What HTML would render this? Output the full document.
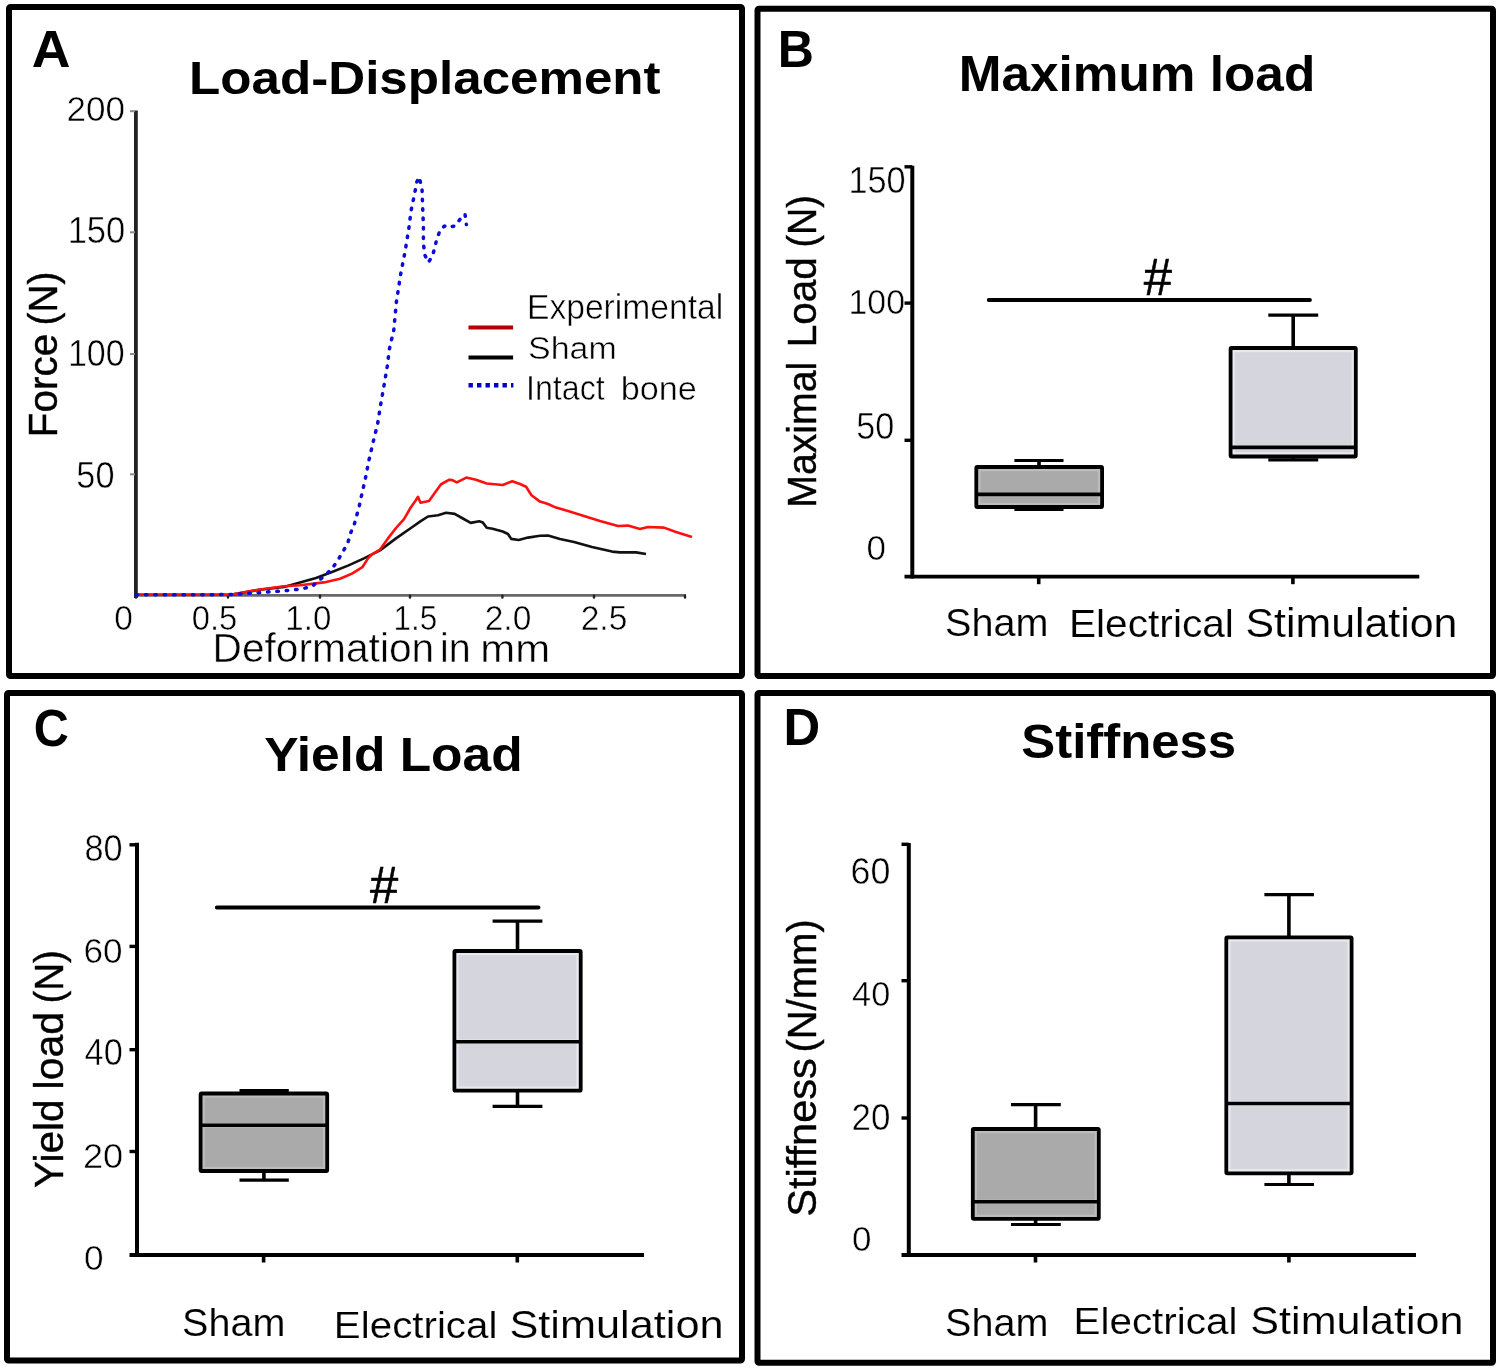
<!DOCTYPE html>
<html><head><meta charset="utf-8"><title>Figure</title>
<style>html,body{margin:0;padding:0;background:#fff;} svg{display:block;will-change:transform;} text{font-family:"Liberation Sans",sans-serif;}</style>
</head><body>
<svg width="1500" height="1370" viewBox="0 0 1500 1370">
<rect width="1500" height="1370" fill="#fff"/>
<g fill="none" stroke="#000" stroke-width="6">
<rect x="9" y="7" width="733" height="669" rx="1.5"/>
<rect x="757.5" y="8.7" width="735.5" height="667.3" rx="1.5"/>
<rect x="7" y="693" width="735" height="667.5" rx="1.5"/>
<rect x="757.5" y="693" width="735.5" height="669.7" rx="1.5"/>
</g>
<g fill="none">
<path d="M134 595.3 H686" stroke="#686868" stroke-width="2.7"/>
<path d="M135.9 110.5 V598" stroke="#222" stroke-width="3.8"/>
<path d="M130 111.2 H135" stroke="#8a8a8a" stroke-width="2"/>
<path d="M130 232.3 H135" stroke="#8a8a8a" stroke-width="2"/>
<path d="M130 354 H135" stroke="#8a8a8a" stroke-width="2"/>
<path d="M130 474.3 H135" stroke="#8a8a8a" stroke-width="2"/>
<path d="M136 595.8 V597.6" stroke="#222" stroke-width="2.4" stroke-linecap="round"/>
<path d="M228 595.8 V597.6" stroke="#222" stroke-width="2.4" stroke-linecap="round"/>
<path d="M320 595.8 V597.6" stroke="#222" stroke-width="2.4" stroke-linecap="round"/>
<path d="M410 595.8 V597.6" stroke="#222" stroke-width="2.4" stroke-linecap="round"/>
<path d="M502.4 595.8 V597.6" stroke="#222" stroke-width="2.4" stroke-linecap="round"/>
<path d="M594 595.8 V597.6" stroke="#222" stroke-width="2.4" stroke-linecap="round"/>
<path d="M685 595.8 V597.6" stroke="#222" stroke-width="2.4" stroke-linecap="round"/>
</g>
<polyline points="136,594.8 232,594.6 258,590 284,586.9 300,582.6 316,578 332,572 348,565.6 364,558.4 380,550.4 396,538.4 412,527.2 420,521.6 428,516.5 438,515.2 446.1,512.8 454.7,513.9 462,518 470.7,522.9 479.2,521.3 482.9,522.6 486.7,527.7 492.6,528.7 502.7,531.5 508,534 511.2,538.9 518.7,540 528,537.6 540,535.7 548,535.6 560,539 574,542 592,547 612,551.6 620,552.4 636,552.4 646,554" fill="none" stroke="#111" stroke-width="2.6" stroke-linejoin="round"/>
<polyline points="136,594.8 232,594.6 258,589.8 284,586.3 300,585.3 324,582.4 340,578.8 352,573.6 362.4,567.2 368,558.4 372,554.4 380,549.6 388,538.4 396,528 404,519.2 410.4,508 416,500 418,496.8 420.5,502.7 429,501 440.8,484.5 449.3,479.7 452,480 456.8,482.4 466.4,477.6 476,479.7 486.7,483.5 502.7,485 512.3,481.3 520,484 526.1,486.7 531.5,495.2 540,501.6 548,504 556,507.6 568,511 584,516 600,521 618,526 628,525.6 640,529 648,527 664,527.6 676,532 692,537" fill="none" stroke="#ff1010" stroke-width="2.6" stroke-linejoin="round"/>
<polyline points="136,594.8 232,594.6 266.7,592 284,590.8 301.3,589 312,586.4 322.4,577.6 332,568.8 337.6,560.8 343.2,551.2 348,542.4 350.4,533.6 354.4,524 356.8,515.2 359.2,506.4 361,497.9 365.3,479 369,460 373.4,441 377.7,423.4 380.7,404.5 384.3,384 387.2,366.5 389.4,349 393.8,330 396.4,301.8 400.7,274 405,252 408.8,228.8 411,211 414.6,193.8 416.8,182 419,177 422,188 422.6,205.5 423.4,226 423.4,243.4 424.8,255 428.5,262.4 432.8,255 436.5,240.5 440,230.3 444.5,226 447.4,227.4 454.7,226 460.6,218.6 465,214.2 466.4,224.5" fill="none" stroke="#0c0cd8" stroke-width="3.5" stroke-dasharray="1.5 7.9" stroke-linecap="round" stroke-linejoin="round"/>
<path d="M468.5 327.5 H513.1" stroke="#b40000" stroke-width="4.2"/>
<path d="M468.5 357.5 H513.1" stroke="#000" stroke-width="4.2"/>
<path d="M468.5 385.2 H513.4" stroke="#0000d0" stroke-width="4.4" stroke-dasharray="4.4 4.1"/>
<g stroke="#000" fill="none">
<path d="M912.3 165.8 V578.6" stroke-width="4"/>
<path d="M904.5 576.7 H1419.3" stroke-width="3.8"/>
<path d="M904.5 166.8 H912.3" stroke-width="3.4"/>
<path d="M904.5 303.1 H912.3" stroke-width="3.4"/>
<path d="M904.5 440.3 H912.3" stroke-width="3.4"/>
<path d="M1038.7 576.7 V584.2" stroke-width="3.6"/>
<path d="M1292.9 576.7 V584.2" stroke-width="3.6"/>
</g>
<g stroke="#000" stroke-width="3.6" fill="none" stroke-linecap="butt">
<path d="M1039 460.5 V467"/>
<path d="M1039 507 V509.3"/>
<path d="M1014.4 460.5 H1063.5" stroke-width="3.2"/>
<path d="M1014.4 509.3 H1063.5" stroke-width="3.2"/>
</g>
<rect x="976.3" y="467" width="125.79999999999995" height="40" fill="#bcbcbc" stroke="#000" stroke-width="3.8" rx="1"/>
<rect x="980.5" y="471.2" width="117.39999999999995" height="20.99999999999998" fill="#aaaaaa"/>
<rect x="980.5" y="496.59999999999997" width="117.39999999999995" height="6.200000000000022" fill="#aaaaaa"/>
<path d="M976.3 494.4 H1102.1" stroke="#000" stroke-width="3.6"/>
<g stroke="#000" stroke-width="3.6" fill="none" stroke-linecap="butt">
<path d="M1293.2 315.2 V348"/>
<path d="M1293.2 456.5 V459.9"/>
<path d="M1268.3 315.2 H1318.2" stroke-width="3.2"/>
<path d="M1268.3 459.9 H1318.2" stroke-width="3.2"/>
</g>
<rect x="1230.6" y="348" width="125.20000000000005" height="108.5" fill="#e8e8ef" stroke="#000" stroke-width="3.8" rx="1"/>
<rect x="1234.8" y="352.2" width="116.80000000000004" height="92.99999999999997" fill="#d5d5de"/>
<rect x="1234.8" y="449.59999999999997" width="116.80000000000004" height="2.7000000000000224" fill="#d5d5de"/>
<path d="M1230.6 447.4 H1355.8" stroke="#000" stroke-width="3.6"/>
<path d="M988.8 299.9 H1309.9" stroke="#000" stroke-width="4" stroke-linecap="round"/>
<g stroke="#000" fill="none">
<path d="M137 842.8 V1256.9" stroke-width="4"/>
<path d="M129.5 1255 H644" stroke-width="3.8"/>
<path d="M129.5 844.8 H137" stroke-width="3.4"/>
<path d="M129.5 946.4 H137" stroke-width="3.4"/>
<path d="M129.5 1049.7 H137" stroke-width="3.4"/>
<path d="M129.5 1151.5 H137" stroke-width="3.4"/>
<path d="M263.6 1255 V1262.5" stroke-width="3.6"/>
<path d="M517.3 1255 V1262.5" stroke-width="3.6"/>
</g>
<g stroke="#000" stroke-width="3.6" fill="none" stroke-linecap="butt">
<path d="M263.9 1090.5 V1093.5"/>
<path d="M263.9 1171 V1180.2"/>
<path d="M239.5 1090.5 H288.8" stroke-width="3.2"/>
<path d="M239.5 1180.2 H288.8" stroke-width="3.2"/>
</g>
<rect x="200.6" y="1093.5" width="126.6" height="77.5" fill="#bcbcbc" stroke="#000" stroke-width="3.8" rx="1"/>
<rect x="204.79999999999998" y="1097.7" width="118.19999999999999" height="25.399999999999956" fill="#aaaaaa"/>
<rect x="204.79999999999998" y="1127.5" width="118.19999999999999" height="39.30000000000005" fill="#aaaaaa"/>
<path d="M200.6 1125.3 H327.2" stroke="#000" stroke-width="3.6"/>
<g stroke="#000" stroke-width="3.6" fill="none" stroke-linecap="butt">
<path d="M517.5 921.2 V951"/>
<path d="M517.5 1090.7 V1106.4"/>
<path d="M492.6 921.2 H542.4" stroke-width="3.2"/>
<path d="M492.6 1106.4 H542.4" stroke-width="3.2"/>
</g>
<rect x="454.4" y="951" width="126.30000000000007" height="139.70000000000005" fill="#e8e8ef" stroke="#000" stroke-width="3.8" rx="1"/>
<rect x="458.59999999999997" y="955.2" width="117.90000000000006" height="84.30000000000004" fill="#d5d5de"/>
<rect x="458.59999999999997" y="1043.9" width="117.90000000000006" height="42.6" fill="#d5d5de"/>
<path d="M454.4 1041.7 H580.7" stroke="#000" stroke-width="3.6"/>
<path d="M216.9 907.4 H538.4" stroke="#000" stroke-width="4" stroke-linecap="round"/>
<g stroke="#000" fill="none">
<path d="M908.8 843 V1256.9" stroke-width="4"/>
<path d="M901.5 1255 H1416" stroke-width="3.8"/>
<path d="M901.5 844.3 H908.8" stroke-width="3.4"/>
<path d="M901.5 980.7 H908.8" stroke-width="3.4"/>
<path d="M901.5 1118 H908.8" stroke-width="3.4"/>
<path d="M1035.5 1255 V1262.5" stroke-width="3.6"/>
<path d="M1288.9 1255 V1262.5" stroke-width="3.6"/>
</g>
<g stroke="#000" stroke-width="3.6" fill="none" stroke-linecap="butt">
<path d="M1035.6 1104.6 V1129"/>
<path d="M1035.6 1218.8 V1224.5"/>
<path d="M1011 1104.6 H1060.8" stroke-width="3.2"/>
<path d="M1011 1224.5 H1060.8" stroke-width="3.2"/>
</g>
<rect x="972.8" y="1129" width="126.0" height="89.79999999999995" fill="#bcbcbc" stroke="#000" stroke-width="3.8" rx="1"/>
<rect x="977.0" y="1133.2" width="117.6" height="66.39999999999995" fill="#aaaaaa"/>
<rect x="977.0" y="1204.0" width="117.6" height="10.6" fill="#aaaaaa"/>
<path d="M972.8 1201.8 H1098.8" stroke="#000" stroke-width="3.6"/>
<g stroke="#000" stroke-width="3.6" fill="none" stroke-linecap="butt">
<path d="M1288.9 894.6 V937.4"/>
<path d="M1288.9 1173.3 V1184.5"/>
<path d="M1264.4 894.6 H1314" stroke-width="3.2"/>
<path d="M1264.4 1184.5 H1314" stroke-width="3.2"/>
</g>
<rect x="1226.3" y="937.4" width="125.29999999999995" height="235.89999999999998" fill="#e8e8ef" stroke="#000" stroke-width="3.8" rx="1"/>
<rect x="1230.5" y="941.6" width="116.89999999999995" height="159.70000000000002" fill="#d5d5de"/>
<rect x="1230.5" y="1105.7" width="116.89999999999995" height="63.399999999999956" fill="#d5d5de"/>
<path d="M1226.3 1103.5 H1351.6" stroke="#000" stroke-width="3.6"/>
<g font-family="Liberation Sans" font-size="100">
<text transform="matrix(0.53636 0 0 0.52174 31.69 67.30)" font-weight="bold" fill="#000">A</text>
<text transform="matrix(0.51127 0 0 0.45616 189.12 94.00)" font-weight="bold" fill="#000">Load-Displacement</text>
<text transform="matrix(0.35063 0 0 0.35571 66.45 120.70)" font-weight="normal" fill="#000" stroke="#fff" stroke-width="1.42" stroke-linejoin="round">200</text>
<text transform="matrix(0.34581 0 0 0.36571 67.63 242.60)" font-weight="normal" fill="#000" stroke="#fff" stroke-width="1.41" stroke-linejoin="round">150</text>
<text transform="matrix(0.34000 0 0 0.36714 67.88 366.10)" font-weight="normal" fill="#000" stroke="#fff" stroke-width="1.41" stroke-linejoin="round">100</text>
<text transform="matrix(0.34272 0 0 0.37143 76.33 487.70)" font-weight="normal" fill="#000" stroke="#fff" stroke-width="1.40" stroke-linejoin="round">50</text>
<text transform="matrix(0.33542 0 0 0.34571 114.36 629.70)" font-weight="normal" fill="#000" stroke="#fff" stroke-width="1.47" stroke-linejoin="round">0</text>
<text transform="matrix(0.32824 0 0 0.34571 191.69 629.70)" font-weight="normal" fill="#000" stroke="#fff" stroke-width="1.48" stroke-linejoin="round">0.5</text>
<text transform="matrix(0.33071 0 0 0.34571 285.35 629.70)" font-weight="normal" fill="#000" stroke="#fff" stroke-width="1.48" stroke-linejoin="round">1.0</text>
<text transform="matrix(0.31496 0 0 0.35072 393.48 629.70)" font-weight="normal" fill="#000" stroke="#fff" stroke-width="1.50" stroke-linejoin="round">1.5</text>
<text transform="matrix(0.33538 0 0 0.34571 484.72 629.70)" font-weight="normal" fill="#000" stroke="#fff" stroke-width="1.47" stroke-linejoin="round">2.0</text>
<text transform="matrix(0.33538 0 0 0.34571 580.72 629.70)" font-weight="normal" fill="#000" stroke="#fff" stroke-width="1.47" stroke-linejoin="round">2.5</text>
<text transform="matrix(0.40717 0 0 0.40137 212.54 662.10)" font-weight="normal" fill="#000" stroke="#fff" stroke-width="1.24" stroke-linejoin="round">Deformation</text>
<text transform="matrix(0.39531 0 0 0.40000 440.03 662.20)" font-weight="normal" fill="#000" stroke="#fff" stroke-width="1.26" stroke-linejoin="round">in</text>
<text transform="matrix(0.41895 0 0 0.39259 480.37 662.20)" font-weight="normal" fill="#000" stroke="#fff" stroke-width="1.23" stroke-linejoin="round">mm</text>
<text transform="matrix(0.33620 0 0 0.34521 527.01 319.20)" font-weight="normal" fill="#000" stroke="#fff" stroke-width="1.47" stroke-linejoin="round">Experimental</text>
<text transform="matrix(0.33960 0 0 0.31233 528.00 358.80)" font-weight="normal" fill="#000" stroke="#fff" stroke-width="1.53" stroke-linejoin="round">Sham</text>
<text transform="matrix(0.32213 0 0 0.35652 526.00 399.50)" font-weight="normal" fill="#000" stroke="#fff" stroke-width="1.47" stroke-linejoin="round">Intact</text>
<text transform="matrix(0.34218 0 0 0.33699 620.80 399.50)" font-weight="normal" fill="#000" stroke="#fff" stroke-width="1.47" stroke-linejoin="round">bone</text>
<text transform="matrix(0.50164 0 0 0.51304 777.69 67.40)" font-weight="bold" fill="#000">B</text>
<text transform="matrix(0.51351 0 0 0.49315 958.71 90.70)" font-weight="bold" fill="#000">Maximum load</text>
<text transform="matrix(0.34323 0 0 0.36286 848.45 193.10)" font-weight="normal" fill="#000" stroke="#fff" stroke-width="1.42" stroke-linejoin="round">150</text>
<text transform="matrix(0.33871 0 0 0.35714 848.49 314.30)" font-weight="normal" fill="#000" stroke="#fff" stroke-width="1.44" stroke-linejoin="round">100</text>
<text transform="matrix(0.34175 0 0 0.36714 856.23 438.90)" font-weight="normal" fill="#000" stroke="#fff" stroke-width="1.41" stroke-linejoin="round">50</text>
<text transform="matrix(0.35000 0 0 0.35571 866.50 559.90)" font-weight="normal" fill="#000" stroke="#fff" stroke-width="1.42" stroke-linejoin="round">0</text>
<text transform="matrix(0.39600 0 0 0.38219 945.12 636.40)" font-weight="normal" fill="#000" stroke="#fff" stroke-width="0.39" stroke-linejoin="round">Sham</text>
<text transform="matrix(0.40665 0 0 0.39041 1068.95 636.50)" font-weight="normal" fill="#000" stroke="#fff" stroke-width="0.38" stroke-linejoin="round">Electrical</text>
<text transform="matrix(0.42836 0 0 0.39726 1245.56 636.60)" font-weight="normal" fill="#000" stroke="#fff" stroke-width="0.36" stroke-linejoin="round">Stimulation</text>
<text transform="matrix(0.48615 0 0 0.51429 33.76 745.50)" font-weight="bold" fill="#000">C</text>
<text transform="matrix(0.51481 0 0 0.48493 264.27 770.70)" font-weight="bold" fill="#000">Yield Load</text>
<text transform="matrix(0.34272 0 0 0.36429 84.43 860.60)" font-weight="normal" fill="#000" stroke="#fff" stroke-width="1.41" stroke-linejoin="round">80</text>
<text transform="matrix(0.35098 0 0 0.35714 83.55 962.80)" font-weight="normal" fill="#000" stroke="#fff" stroke-width="1.41" stroke-linejoin="round">60</text>
<text transform="matrix(0.34286 0 0 0.36143 84.61 1065.30)" font-weight="normal" fill="#000" stroke="#fff" stroke-width="1.42" stroke-linejoin="round">40</text>
<text transform="matrix(0.36176 0 0 0.35714 82.89 1167.70)" font-weight="normal" fill="#000" stroke="#fff" stroke-width="1.39" stroke-linejoin="round">20</text>
<text transform="matrix(0.35208 0 0 0.34571 83.99 1269.60)" font-weight="normal" fill="#000" stroke="#fff" stroke-width="1.43" stroke-linejoin="round">0</text>
<text transform="matrix(0.39560 0 0 0.39726 182.02 1336.10)" font-weight="normal" fill="#000" stroke="#fff" stroke-width="0.38" stroke-linejoin="round">Sham</text>
<text transform="matrix(0.40332 0 0 0.37534 333.87 1338.30)" font-weight="normal" fill="#000" stroke="#fff" stroke-width="0.39" stroke-linejoin="round">Electrical</text>
<text transform="matrix(0.43292 0 0 0.39589 509.44 1337.90)" font-weight="normal" fill="#000" stroke="#fff" stroke-width="0.36" stroke-linejoin="round">Stimulation</text>
<text transform="matrix(0.50820 0 0 0.52174 783.44 745.30)" font-weight="bold" fill="#000">D</text>
<text transform="matrix(0.50892 0 0 0.48904 1021.27 757.90)" font-weight="bold" fill="#000">Stiffness</text>
<text transform="matrix(0.35882 0 0 0.36429 850.61 884.00)" font-weight="normal" fill="#000" stroke="#fff" stroke-width="1.38" stroke-linejoin="round">60</text>
<text transform="matrix(0.34286 0 0 0.35857 852.11 1005.60)" font-weight="normal" fill="#000" stroke="#fff" stroke-width="1.43" stroke-linejoin="round">40</text>
<text transform="matrix(0.35000 0 0 0.37000 851.55 1129.90)" font-weight="normal" fill="#000" stroke="#fff" stroke-width="1.39" stroke-linejoin="round">20</text>
<text transform="matrix(0.35000 0 0 0.36000 851.90 1251.00)" font-weight="normal" fill="#000" stroke="#fff" stroke-width="1.41" stroke-linejoin="round">0</text>
<text transform="matrix(0.39600 0 0 0.38219 945.12 1335.50)" font-weight="normal" fill="#000" stroke="#fff" stroke-width="0.39" stroke-linejoin="round">Sham</text>
<text transform="matrix(0.40435 0 0 0.36986 1073.47 1333.70)" font-weight="normal" fill="#000" stroke="#fff" stroke-width="0.39" stroke-linejoin="round">Electrical</text>
<text transform="matrix(0.43106 0 0 0.38356 1250.34 1333.90)" font-weight="normal" fill="#000" stroke="#fff" stroke-width="0.37" stroke-linejoin="round">Stimulation</text>
<text transform="matrix(0.50727 0 0 0.51765 1143.80 294.70)" font-weight="normal" stroke="#000" stroke-width="1.17" stroke-linejoin="round">#</text>
<text transform="matrix(0.50727 0 0 0.52206 370.10 902.80)" font-weight="normal" stroke="#000" stroke-width="1.17" stroke-linejoin="round">#</text>
<text transform="matrix(0 -0.40494 0.40959 0 56.80 437.24)" font-weight="normal" stroke="#000" stroke-width="0.98">Force</text>
<text transform="matrix(0 -0.38740 0.40959 0 56.80 325.42)" font-weight="normal" stroke="#000" stroke-width="1.00">(N)</text>
<text transform="matrix(0 -0.39190 0.40822 0 816.00 507.64)" font-weight="normal" stroke="#000" stroke-width="1.00">Maximal</text>
<text transform="matrix(0 -0.40529 0.40822 0 816.00 347.34)" font-weight="normal" stroke="#000" stroke-width="0.98">Load</text>
<text transform="matrix(0 -0.37638 0.40822 0 816.00 247.56)" font-weight="normal" stroke="#000" stroke-width="1.02">(N)</text>
<text transform="matrix(0 -0.40431 0.40822 0 63.10 1187.91)" font-weight="normal" stroke="#000" stroke-width="0.98">Yield</text>
<text transform="matrix(0 -0.41023 0.40822 0 63.10 1089.47)" font-weight="normal" stroke="#000" stroke-width="0.98">load</text>
<text transform="matrix(0 -0.38583 0.40822 0 63.10 1003.61)" font-weight="normal" stroke="#000" stroke-width="1.01">(N)</text>
<text transform="matrix(0 -0.41582 0.41370 0 816.20 1216.78)" font-weight="normal" stroke="#000" stroke-width="0.96">Stiffness</text>
<text transform="matrix(0 -0.40031 0.41370 0 816.20 1052.60)" font-weight="normal" stroke="#000" stroke-width="0.98">(N/mm)</text>
</g>
</svg>
</body></html>
